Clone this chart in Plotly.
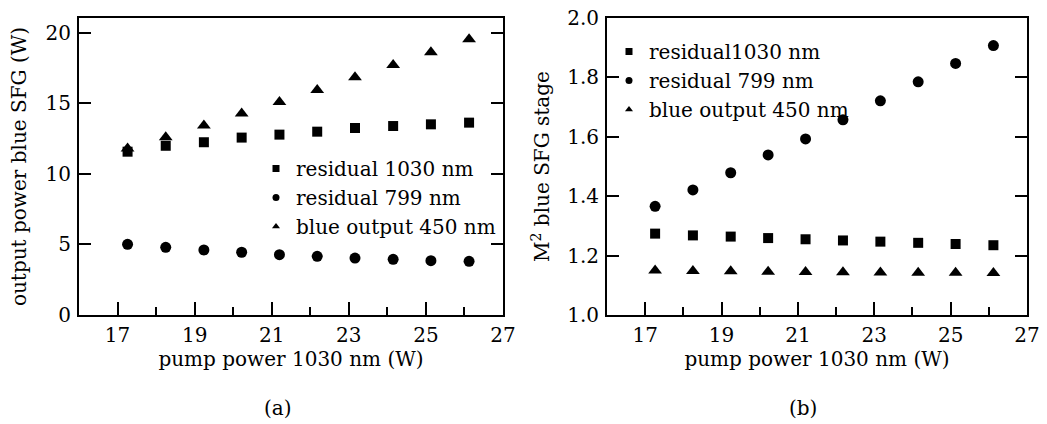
import plotly.graph_objects as go

# ---- data ----
pump_power = [17.26, 18.25, 19.24, 20.22, 21.20, 22.18, 23.16, 24.15, 25.13, 26.12]

power_residual_1030 = [11.58, 12.00, 12.25, 12.58, 12.79, 13.00, 13.26, 13.40, 13.52, 13.64]
power_residual_799 = [5.01, 4.80, 4.61, 4.45, 4.28, 4.16, 4.04, 3.95, 3.85, 3.81]
power_blue_450 = [11.80, 12.60, 13.43, 14.28, 15.10, 15.96, 16.86, 17.73, 18.63, 19.55]

m2_residual_1030 = [1.274, 1.268, 1.264, 1.259, 1.255, 1.251, 1.247, 1.243, 1.239, 1.235]
m2_residual_799 = [1.366, 1.421, 1.479, 1.539, 1.593, 1.657, 1.721, 1.785, 1.847, 1.907]
m2_blue_450 = [1.150, 1.148, 1.147, 1.146, 1.145, 1.144, 1.143, 1.142, 1.142, 1.141]

legend_a = ["residual 1030 nm", "residual 799 nm", "blue output 450 nm"]
legend_b = ["residual1030 nm", "residual 799 nm", "blue output 450 nm"]

x_title = "pump power 1030 nm (W)"
y_title_a = "output power blue SFG (W)"
y_title_b = "M<sup>2</sup> blue SFG stage"

FONT = "DejaVu Serif"
FS = 20
BLACK = "#000000"
symbols = ["square", "circle", "triangle-up"]
sizes = [10, 11, 12]

fig = go.Figure()

series_a = [power_residual_1030, power_residual_799, power_blue_450]
series_b = [m2_residual_1030, m2_residual_799, m2_blue_450]

for ys, sym, sz in zip(series_a, symbols, sizes):
    fig.add_trace(go.Scatter(x=pump_power, y=ys, mode="markers", showlegend=False,
                             marker=dict(symbol=sym, size=sz, color=BLACK),
                             xaxis="x", yaxis="y"))
for name, sym in zip(legend_a, symbols):
    fig.add_trace(go.Scatter(x=[None], y=[None], mode="markers", name=name,
                             marker=dict(symbol=sym, size=7, color=BLACK),
                             xaxis="x", yaxis="y", legend="legend"))

for ys, sym, sz in zip(series_b, symbols, sizes):
    fig.add_trace(go.Scatter(x=pump_power, y=ys, mode="markers", showlegend=False,
                             marker=dict(symbol=sym, size=sz, color=BLACK),
                             xaxis="x2", yaxis="y2"))
for name, sym in zip(legend_b, symbols):
    fig.add_trace(go.Scatter(x=[None], y=[None], mode="markers", name=name,
                             marker=dict(symbol=sym, size=7, color=BLACK),
                             xaxis="x2", yaxis="y2", legend="legend2"))

W, H = 1047, 424
ydom = [1 - 315 / H, 1 - 18 / H]
tfont = dict(family=FONT, size=FS, color=BLACK)

xcommon = dict(range=[16, 27], tickvals=[17, 19, 21, 23, 25, 27], ticks="inside", ticklen=13,
               tickwidth=1.5, tickcolor=BLACK, showline=True, linecolor=BLACK, linewidth=2,
               mirror=True, showgrid=False, zeroline=False, automargin=False,
               minor=dict(tickvals=[18, 20, 22, 24, 26], ticks="inside", ticklen=8,
                          tickwidth=1.5, tickcolor=BLACK, showgrid=False),
               tickfont=tfont, ticklabelstandoff=1,
               title=dict(text=x_title, font=tfont, standoff=0))

ycommon = dict(ticks="inside", ticklen=12, tickwidth=1.5, tickcolor=BLACK, showline=True,
               linecolor=BLACK, linewidth=2, mirror="ticks", showgrid=False, zeroline=False,
               automargin=False, tickfont=tfont, ticklabelstandoff=2)

fig.update_layout(
    template="none",
    width=W, height=H,
    margin=dict(l=0, r=0, t=0, b=0),
    paper_bgcolor="white", plot_bgcolor="white",
    font=tfont,
    xaxis=dict(domain=[79 / W, 503 / W], anchor="y", **xcommon),
    xaxis2=dict(domain=[607 / W, 1027 / W], anchor="y2", **xcommon),
    yaxis=dict(domain=ydom, anchor="x", range=[0, 21.06], tickvals=[0, 5, 10, 15, 20],
               title=dict(text=y_title_a, font=tfont, standoff=14), **ycommon),
    yaxis2=dict(domain=ydom, anchor="x2", range=[1.0, 2.0],
                tickvals=[1.0, 1.2, 1.4, 1.6, 1.8, 2.0], tickformat=".1f",
                title=dict(text=y_title_b, font=tfont, standoff=12), **ycommon),
    legend=dict(x=256 / W, y=1 - 149 / H, xanchor="left", yanchor="top",
                bgcolor="rgba(0,0,0,0)", font=tfont, tracegroupgap=0, itemwidth=30),
    legend2=dict(x=609 / W, y=1 - 32 / H, xanchor="left", yanchor="top",
                 bgcolor="rgba(0,0,0,0)", font=tfont, tracegroupgap=0, itemwidth=30),
    annotations=[
        dict(text="(a)", x=278 / W, y=1 - 408 / H, xref="paper", yref="paper",
             xanchor="center", yanchor="middle", showarrow=False, font=tfont),
        dict(text="(b)", x=803 / W, y=1 - 408 / H, xref="paper", yref="paper",
             xanchor="center", yanchor="middle", showarrow=False, font=tfont),
    ],
)

fig.write_html("out.html")
